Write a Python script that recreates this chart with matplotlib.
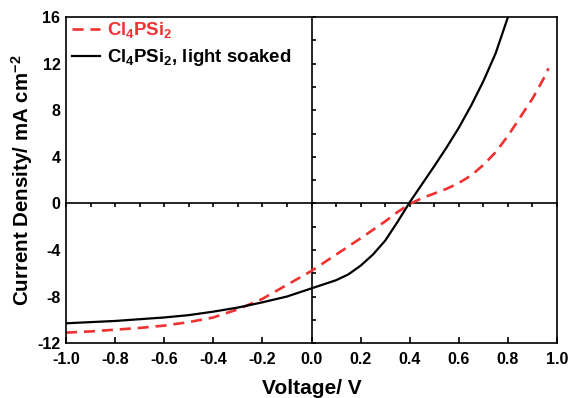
import matplotlib
matplotlib.use("Agg")
import matplotlib.pyplot as plt
from matplotlib.ticker import MultipleLocator, NullFormatter, FormatStrFormatter

plt.rcParams['font.family'] = ['Liberation Sans', 'DejaVu Sans']
plt.rcParams['font.weight'] = 'bold'
plt.rcParams['mathtext.fontset'] = 'custom'
plt.rcParams['mathtext.rm'] = 'Liberation Sans:bold'
plt.rcParams['mathtext.bf'] = 'Liberation Sans:bold'
plt.rcParams['mathtext.it'] = 'Liberation Sans:bold'
plt.rcParams['mathtext.default'] = 'bf'

# Cl4PSi2 (red dashed)
v_fresh = [-1.0, -0.9, -0.8, -0.7, -0.6, -0.5, -0.4, -0.3, -0.2, -0.1, 0.0,
           0.1, 0.2, 0.3, 0.35, 0.4, 0.45, 0.5, 0.55, 0.6, 0.65, 0.7, 0.75,
           0.8, 0.85, 0.9, 0.95, 0.965]
j_fresh = [-11.1, -11.0, -10.85, -10.7, -10.5, -10.2, -9.8, -9.1, -8.2, -7.0, -5.8,
           -4.4, -3.0, -1.55, -0.75, -0.05, 0.45, 0.85, 1.25, 1.75, 2.4, 3.3, 4.4,
           5.8, 7.4, 9.0, 10.9, 11.6]

# Cl4PSi2, light soaked (black solid)
v_soaked = [-1.0, -0.9, -0.8, -0.7, -0.6, -0.5, -0.4, -0.3, -0.2, -0.1, 0.0,
            0.05, 0.1, 0.15, 0.2, 0.25, 0.3, 0.35, 0.4, 0.45, 0.5, 0.55, 0.6,
            0.65, 0.7, 0.75, 0.8]
j_soaked = [-10.3, -10.2, -10.1, -9.95, -9.8, -9.6, -9.3, -8.95, -8.5, -8.0, -7.3,
            -6.95, -6.6, -6.1, -5.35, -4.4, -3.2, -1.6, 0.1, 1.65, 3.2, 4.8, 6.5,
            8.4, 10.5, 12.9, 16.0]

labels = [r'Cl$_4$PSi$_2$', r'Cl$_4$PSi$_2$, light soaked']
red = '#f03232'
xlim = (-1.0, 1.0)
ylim = (-12, 16)

fig = plt.figure(figsize=(5.69, 3.98), dpi=100)
rect = [0.116, 0.138, 0.863, 0.819]

# centre axes through the origin (drawn underneath)
ax2 = fig.add_axes(rect)
ax2.set_xlim(*xlim)
ax2.set_ylim(*ylim)
ax2.patch.set_visible(False)
ax2.spines['top'].set_visible(False)
ax2.spines['right'].set_visible(False)
ax2.spines['left'].set_position(('data', 0))
ax2.spines['bottom'].set_position(('data', 0))
ax2.spines['left'].set_linewidth(1.2)
ax2.spines['bottom'].set_linewidth(1.2)
ax2.xaxis.set_major_locator(MultipleLocator(0.1))
ax2.yaxis.set_major_locator(MultipleLocator(2))
ax2.xaxis.set_major_formatter(NullFormatter())
ax2.yaxis.set_major_formatter(NullFormatter())
ax2.tick_params(axis='x', direction='out', length=3, width=1.2)
ax2.tick_params(axis='y', direction='in', length=3, width=1.2)

ax = fig.add_axes(rect)
ax.patch.set_visible(False)
ax.plot(v_fresh, j_fresh, color=red, lw=1.9, ls=(0, (4.2, 2.6)), label=labels[0])
ax.plot(v_soaked, j_soaked, color='black', lw=1.6, label=labels[1])

ax.set_xlim(*xlim)
ax.set_ylim(*ylim)
ax.xaxis.set_major_locator(MultipleLocator(0.2))
ax.yaxis.set_major_locator(MultipleLocator(4))
ax.xaxis.set_major_formatter(FormatStrFormatter('%.1f'))
ax.yaxis.set_major_formatter(FormatStrFormatter('%d'))
ax.tick_params(axis='x', direction='in', length=4, width=1.2, labelsize=11.5, pad=6.5)
ax.tick_params(axis='y', length=0, labelsize=11.5, pad=4)
for s in ax.spines.values():
    s.set_linewidth(1.2)
ax.set_xlabel('Voltage/ V', fontsize=15, fontweight='bold', labelpad=8.5)
ax.set_ylabel(r'Current Density/ mA cm$^{-2}$', fontsize=14.8, fontweight='bold')
ax.yaxis.set_label_coords(-0.063, 0.5)

leg = ax.legend(loc='upper left', bbox_to_anchor=(0.012, 0.99), frameon=False,
                fontsize=13.4, handlelength=1.5, handletextpad=0.37,
                labelspacing=0.38, borderaxespad=0, borderpad=0)
leg.get_texts()[0].set_color(red)

fig.savefig('out.png', dpi=100)
